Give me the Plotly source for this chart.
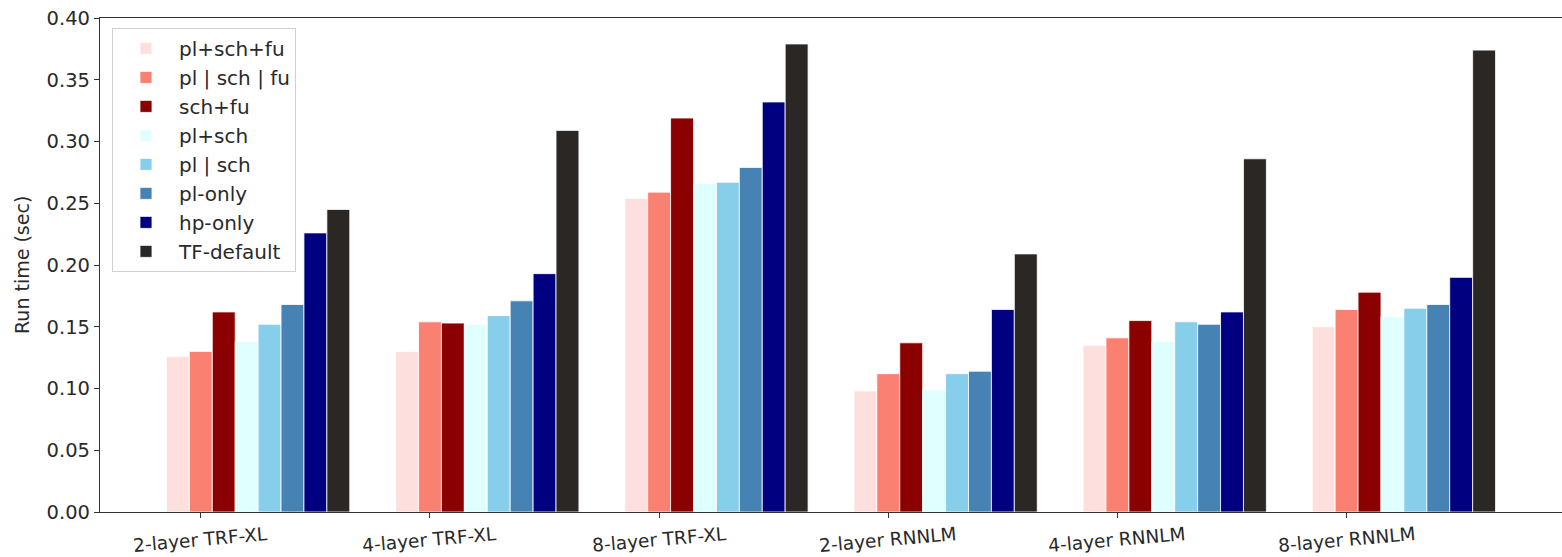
import plotly.graph_objects as go

categories = ["2-layer TRF-XL", "4-layer TRF-XL", "8-layer TRF-XL",
              "2-layer RNNLM", "4-layer RNNLM", "8-layer RNNLM"]

series_names = ["pl+sch+fu", "pl | sch | fu", "sch+fu", "pl+sch",
                "pl | sch", "pl-only", "hp-only", "TF-default"]

pl_sch_fu = [0.126, 0.130, 0.254, 0.098, 0.135, 0.150]
pl_or_sch_or_fu = [0.130, 0.154, 0.259, 0.112, 0.141, 0.164]
sch_fu = [0.162, 0.153, 0.319, 0.137, 0.155, 0.178]
pl_sch = [0.138, 0.152, 0.266, 0.099, 0.138, 0.158]
pl_or_sch = [0.152, 0.159, 0.267, 0.112, 0.154, 0.165]
pl_only = [0.168, 0.171, 0.279, 0.114, 0.152, 0.168]
hp_only = [0.226, 0.193, 0.332, 0.164, 0.162, 0.190]
tf_default = [0.245, 0.309, 0.379, 0.209, 0.286, 0.374]

series_values = [pl_sch_fu, pl_or_sch_or_fu, sch_fu, pl_sch,
                 pl_or_sch, pl_only, hp_only, tf_default]

colors = ["#fde0de", "#fa8072", "#8b0000", "#e0ffff",
          "#87ceeb", "#4682b4", "#000080", "#2b2724"]

y_ticks = [0.00, 0.05, 0.10, 0.15, 0.20, 0.25, 0.30, 0.35, 0.40]

y_title = "Run time (sec)"

bar_width = 0.1

fig = go.Figure()
group_pos = list(range(len(categories)))
for i, (name, vals, col) in enumerate(zip(series_names, series_values, colors)):
    xs = [g + (i - 1) * bar_width for g in group_pos]
    fig.add_trace(go.Bar(
        x=xs, y=vals, name=name, width=bar_width,
        marker=dict(color=col, line=dict(color="white", width=0.8)),
        legendgroup=name,
    ))

font_family = "DejaVu Sans"
text_color = "#2a2a2a"

# x category labels, centred under ticks and slightly rotated
for g, label in zip(group_pos, categories):
    fig.add_annotation(
        x=g, y=0, xref="x", yref="paper",
        text=label, showarrow=False, textangle=-5,
        xanchor="center", yanchor="middle", yshift=-27,
        font=dict(family=font_family, size=18.5, color=text_color),
    )

# y axis title
fig.add_annotation(
    x=0, y=0.5, xref="paper", yref="paper",
    text=y_title, showarrow=False, textangle=-90,
    xanchor="center", yanchor="middle", xshift=-78,
    font=dict(family=font_family, size=19, color=text_color),
)

fig.update_layout(
    width=1562, height=557,
    margin=dict(l=100, r=0, t=18, b=45),
    paper_bgcolor="white", plot_bgcolor="white",
    barmode="overlay",
    font=dict(family=font_family, size=19, color=text_color),
    showlegend=True,
    legend=dict(
        x=0.0082, y=0.98, xanchor="left", yanchor="top",
        bgcolor="rgba(255,255,255,0.9)", bordercolor="#d0d0d0", borderwidth=1,
        font=dict(family=font_family, size=20, color=text_color),
        traceorder="grouped", tracegroupgap=0,
        itemwidth=56,
    ),
    xaxis=dict(
        range=[-0.44, 5.94],
        tickvals=group_pos, showticklabels=False,
        showline=True, linecolor="#333333", linewidth=1.2, mirror=True,
        ticks="outside", ticklen=5, tickcolor="#333333",
        showgrid=False, zeroline=False,
    ),
    yaxis=dict(
        range=[0, 0.40],
        tickvals=y_ticks, ticktext=[f"{v:.2f}" for v in y_ticks],
        showline=True, linecolor="#333333", linewidth=1.2,
        ticks="outside", ticklen=5, tickcolor="#333333",
        showgrid=False, zeroline=False,
        tickfont=dict(family=font_family, size=19.5, color=text_color),
    ),
)

fig.write_html("out.html")
